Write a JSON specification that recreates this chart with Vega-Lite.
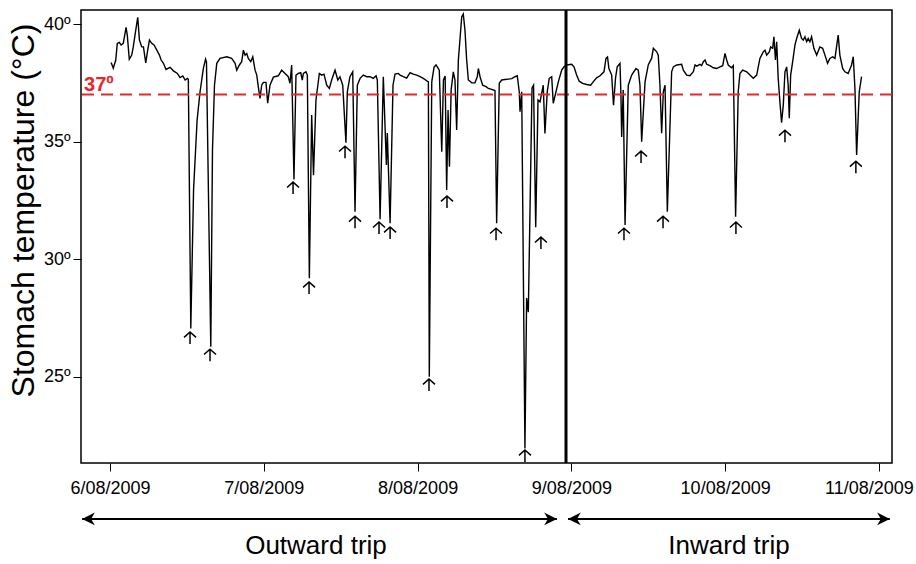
{
  "$schema": "https://vega.github.io/schema/vega-lite/v6.json",
  "width": 811,
  "height": 453,
  "autosize": {"type": "none"},
  "padding": {"left": 81, "top": 10, "right": 24, "bottom": 101},
  "background": "white",
  "config": {
    "view": {"stroke": "black", "strokeWidth": 1.5},
    "font": "Liberation Sans",
    "axis": {"labelFont": "Liberation Sans", "titleFont": "Liberation Sans", "labelColor": "black", "titleColor": "black", "tickColor": "black", "grid": false, "domain": false}
  },
  "datasets": {
    "temp": [
      {"day":0.007,"temp":38.37},{"day":0.021,"temp":38.12},{"day":0.037,"temp":38.47},{"day":0.047,"temp":39.18},{"day":0.060,"temp":39.22},{"day":0.072,"temp":39.11},{"day":0.086,"temp":39.18},{"day":0.104,"temp":39.86},{"day":0.112,"temp":39.53},{"day":0.125,"temp":38.50},
      {"day":0.141,"temp":38.68},{"day":0.151,"temp":39.03},{"day":0.167,"temp":39.74},{"day":0.180,"temp":40.29},{"day":0.191,"temp":39.32},{"day":0.206,"temp":39.03},{"day":0.217,"temp":39.03},{"day":0.232,"temp":38.35},{"day":0.243,"temp":38.82},{"day":0.256,"temp":39.32},
      {"day":0.271,"temp":39.18},{"day":0.286,"temp":39.11},{"day":0.304,"temp":38.89},{"day":0.321,"temp":38.68},{"day":0.332,"temp":38.47},{"day":0.347,"temp":38.33},{"day":0.364,"temp":38.07},{"day":0.390,"temp":38.16},{"day":0.412,"temp":38.01},{"day":0.438,"temp":37.90},
      {"day":0.455,"temp":37.72},{"day":0.473,"temp":37.79},{"day":0.488,"temp":37.62},{"day":0.503,"temp":37.69},{"day":0.509,"temp":37.65},{"day":0.525,"temp":27.05},{"day":0.543,"temp":32.94},{"day":0.566,"temp":35.91},{"day":0.585,"temp":37.11},{"day":0.607,"temp":38.13},
      {"day":0.621,"temp":38.51},{"day":0.627,"temp":38.38},{"day":0.655,"temp":26.27},{"day":0.666,"temp":34.64},{"day":0.679,"temp":37.40},{"day":0.694,"temp":38.33},{"day":0.715,"temp":38.54},{"day":0.759,"temp":38.61},{"day":0.791,"temp":38.54},{"day":0.813,"temp":38.33},
      {"day":0.824,"temp":38.04},{"day":0.841,"temp":38.26},{"day":0.856,"temp":38.40},{"day":0.867,"temp":38.89},{"day":0.878,"temp":38.68},{"day":0.889,"temp":38.75},{"day":0.899,"temp":38.54},{"day":0.915,"temp":38.40},{"day":0.928,"temp":38.61},{"day":0.943,"temp":38.04},
      {"day":0.954,"temp":37.83},{"day":0.964,"temp":37.33},{"day":0.975,"temp":36.84},{"day":0.986,"temp":37.40},{"day":0.997,"temp":37.52},{"day":1.014,"temp":37.52},{"day":1.025,"temp":36.63},{"day":1.040,"temp":37.40},{"day":1.062,"temp":37.74},{"day":1.094,"temp":37.80},
      {"day":1.116,"temp":38.04},{"day":1.138,"temp":37.90},{"day":1.159,"temp":37.76},{"day":1.170,"temp":37.48},{"day":1.181,"temp":38.26},{"day":1.196,"temp":33.39},{"day":1.209,"temp":37.83},{"day":1.224,"temp":37.90},{"day":1.240,"temp":37.93},{"day":1.250,"temp":37.62},
      {"day":1.257,"temp":37.90},{"day":1.274,"temp":37.97},{"day":1.283,"temp":37.83},{"day":1.296,"temp":29.18},{"day":1.311,"temp":36.13},{"day":1.323,"temp":33.57},{"day":1.339,"temp":36.77},{"day":1.361,"temp":37.90},{"day":1.376,"temp":37.83},{"day":1.391,"temp":37.87},
      {"day":1.409,"temp":37.40},{"day":1.426,"temp":37.26},{"day":1.441,"temp":37.62},{"day":1.463,"temp":38.04},{"day":1.481,"temp":37.62},{"day":1.495,"temp":37.76},{"day":1.513,"temp":37.40},{"day":1.534,"temp":34.95},{"day":1.543,"temp":37.12},{"day":1.560,"temp":37.76},
      {"day":1.578,"temp":37.97},{"day":1.593,"temp":32.01},{"day":1.608,"temp":37.40},{"day":1.626,"temp":37.69},{"day":1.647,"temp":37.83},{"day":1.669,"temp":37.76},{"day":1.690,"temp":37.76},{"day":1.712,"temp":37.69},{"day":1.730,"temp":37.80},{"day":1.738,"temp":37.62},
      {"day":1.756,"temp":31.69},{"day":1.777,"temp":37.76},{"day":1.797,"temp":34.00},{"day":1.803,"temp":35.36},{"day":1.821,"temp":31.52},{"day":1.840,"temp":37.40},{"day":1.853,"temp":37.87},{"day":1.874,"temp":37.90},{"day":1.886,"temp":37.83},{"day":1.907,"temp":37.76},
      {"day":1.929,"temp":37.70},{"day":1.951,"temp":37.93},{"day":1.972,"temp":37.87},{"day":1.994,"temp":37.83},{"day":2.016,"temp":37.76},{"day":2.037,"temp":37.69},{"day":2.059,"temp":37.59},{"day":2.070,"temp":37.54},{"day":2.076,"temp":24.99},{"day":2.092,"temp":37.54},
      {"day":2.107,"temp":38.17},{"day":2.120,"temp":38.26},{"day":2.141,"temp":38.04},{"day":2.157,"temp":34.57},{"day":2.168,"temp":37.62},{"day":2.179,"temp":37.79},{"day":2.189,"temp":32.94},{"day":2.198,"temp":36.34},{"day":2.207,"temp":33.93},{"day":2.218,"temp":37.19},
      {"day":2.232,"temp":37.97},{"day":2.243,"temp":37.62},{"day":2.254,"temp":35.49},{"day":2.265,"temp":38.47},{"day":2.287,"temp":40.31},{"day":2.297,"temp":40.43},{"day":2.308,"temp":39.74},{"day":2.319,"temp":38.47},{"day":2.330,"temp":37.62},{"day":2.352,"temp":37.50},
      {"day":2.373,"temp":37.50},{"day":2.388,"temp":37.76},{"day":2.395,"temp":38.11},{"day":2.406,"temp":37.76},{"day":2.423,"temp":37.40},{"day":2.445,"temp":37.34},{"day":2.460,"temp":37.26},{"day":2.482,"temp":37.22},{"day":2.503,"temp":37.17},{"day":2.514,"temp":31.52},
      {"day":2.531,"temp":37.48},{"day":2.547,"temp":37.62},{"day":2.568,"temp":37.64},{"day":2.590,"temp":37.66},{"day":2.612,"temp":37.68},{"day":2.633,"temp":37.76},{"day":2.648,"temp":37.80},{"day":2.661,"temp":37.12},{"day":2.666,"temp":36.27},{"day":2.677,"temp":37.12},
      {"day":2.698,"temp":21.94},{"day":2.709,"temp":28.34},{"day":2.720,"temp":27.74},{"day":2.744,"temp":37.28},{"day":2.754,"temp":37.40},{"day":2.768,"temp":31.35},{"day":2.783,"temp":36.77},{"day":2.796,"temp":36.69},{"day":2.817,"temp":37.40},{"day":2.828,"temp":35.35},
      {"day":2.843,"temp":37.12},{"day":2.856,"temp":37.69},{"day":2.872,"temp":37.76},{"day":2.882,"temp":36.63},{"day":2.900,"temp":37.12},{"day":2.915,"temp":37.54},{"day":2.937,"temp":38.04},{"day":2.952,"temp":38.18},{"day":2.969,"temp":38.26},{"day":3.002,"temp":38.29},
      {"day":3.017,"temp":38.18},{"day":3.034,"temp":37.83},{"day":3.051,"temp":37.57},{"day":3.073,"temp":37.48},{"day":3.099,"temp":37.43},{"day":3.125,"temp":37.40},{"day":3.142,"temp":37.54},{"day":3.164,"temp":37.71},{"day":3.186,"temp":37.80},{"day":3.212,"temp":37.97},
      {"day":3.225,"temp":38.54},{"day":3.235,"temp":38.60},{"day":3.244,"temp":38.11},{"day":3.262,"temp":37.83},{"day":3.274,"temp":36.55},{"day":3.287,"temp":37.70},{"day":3.298,"temp":38.18},{"day":3.316,"temp":38.33},{"day":3.322,"temp":37.05},{"day":3.327,"temp":35.20},
      {"day":3.337,"temp":37.19},{"day":3.349,"temp":31.45},{"day":3.370,"temp":37.40},{"day":3.392,"temp":37.83},{"day":3.420,"temp":38.11},{"day":3.435,"temp":38.04},{"day":3.446,"temp":37.40},{"day":3.457,"temp":34.99},{"day":3.479,"temp":37.54},{"day":3.500,"temp":38.26},
      {"day":3.522,"temp":38.55},{"day":3.533,"temp":38.97},{"day":3.555,"temp":38.82},{"day":3.565,"temp":38.68},{"day":3.576,"temp":37.40},{"day":3.587,"temp":35.36},{"day":3.598,"temp":37.12},{"day":3.609,"temp":37.40},{"day":3.624,"temp":32.01},{"day":3.652,"temp":37.97},
      {"day":3.663,"temp":38.18},{"day":3.685,"temp":38.26},{"day":3.717,"temp":38.29},{"day":3.728,"temp":38.04},{"day":3.750,"temp":37.83},{"day":3.771,"temp":37.80},{"day":3.793,"temp":37.97},{"day":3.804,"temp":38.26},{"day":3.815,"temp":38.21},{"day":3.836,"temp":38.29},
      {"day":3.847,"temp":38.23},{"day":3.858,"temp":38.40},{"day":3.869,"temp":38.47},{"day":3.880,"temp":38.29},{"day":3.901,"temp":38.23},{"day":3.923,"temp":38.14},{"day":3.945,"temp":38.11},{"day":3.966,"temp":38.18},{"day":3.984,"temp":38.23},{"day":3.999,"temp":38.75},
      {"day":4.010,"temp":38.47},{"day":4.020,"temp":38.26},{"day":4.042,"temp":38.14},{"day":4.053,"temp":38.23},{"day":4.068,"temp":31.80},{"day":4.085,"temp":37.12},{"day":4.096,"temp":37.90},{"day":4.114,"temp":38.04},{"day":4.140,"temp":37.97},{"day":4.161,"temp":37.83},
      {"day":4.183,"temp":37.69},{"day":4.205,"temp":37.83},{"day":4.226,"temp":38.54},{"day":4.248,"temp":38.82},{"day":4.259,"temp":38.89},{"day":4.270,"temp":38.68},{"day":4.287,"temp":38.82},{"day":4.296,"temp":39.03},{"day":4.309,"temp":38.97},{"day":4.317,"temp":39.46},
      {"day":4.327,"temp":38.47},{"day":4.335,"temp":39.25},{"day":4.345,"temp":37.69},{"day":4.356,"temp":36.69},{"day":4.367,"temp":35.80},{"day":4.378,"temp":36.55},{"day":4.389,"temp":37.97},{"day":4.400,"temp":38.18},{"day":4.410,"temp":37.40},{"day":4.417,"temp":35.99},
      {"day":4.426,"temp":37.83},{"day":4.439,"temp":38.40},{"day":4.454,"temp":39.11},{"day":4.465,"temp":39.39},{"day":4.482,"temp":39.74},{"day":4.497,"temp":39.39},{"day":4.508,"temp":39.32},{"day":4.519,"temp":39.46},{"day":4.530,"temp":39.25},{"day":4.540,"temp":39.39},
      {"day":4.551,"temp":39.25},{"day":4.562,"temp":39.46},{"day":4.577,"temp":38.97},{"day":4.595,"temp":38.68},{"day":4.616,"temp":39.03},{"day":4.634,"temp":38.97},{"day":4.649,"temp":38.68},{"day":4.666,"temp":38.33},{"day":4.681,"temp":38.54},{"day":4.699,"temp":38.61},
      {"day":4.714,"temp":38.54},{"day":4.735,"temp":39.53},{"day":4.746,"temp":38.68},{"day":4.764,"temp":38.11},{"day":4.779,"temp":37.97},{"day":4.800,"temp":37.90},{"day":4.822,"temp":38.26},{"day":4.833,"temp":38.61},{"day":4.844,"temp":37.26},{"day":4.855,"temp":34.43},
      {"day":4.872,"temp":37.12},{"day":4.887,"temp":37.76}
    ],
    "dives": [
      {"day":0.520,"marker":26.64},{"day":0.650,"marker":25.91},{"day":1.190,"marker":33.02},{"day":1.294,"marker":28.77},{"day":1.528,"marker":34.55},{"day":1.593,"marker":31.57},{"day":1.749,"marker":31.32},{"day":1.821,"marker":31.11},{"day":2.074,"marker":24.64},{"day":2.191,"marker":32.43},
      {"day":2.510,"marker":31.06},{"day":2.698,"marker":21.62},{"day":2.802,"marker":30.68},{"day":3.342,"marker":31.06},{"day":3.453,"marker":34.34},{"day":3.596,"marker":31.57},{"day":4.070,"marker":31.32},{"day":4.389,"marker":35.23},{"day":4.850,"marker":33.91}
    ],
    "trips": [
      {"trip":"Outward trip","start":-0.182,"end":2.906,"mid":1.339},
      {"trip":"Inward trip","start":2.978,"end":5.071,"mid":4.025}
    ],
    "refs": [
      {"threshold": 37, "label": "37º", "labelDay": -0.169, "labelTemp": 37.4, "split": 2.965}
    ]
  },
  "layer": [
    {
      "data": {"name": "temp"},
      "mark": {"type": "line", "color": "black", "strokeWidth": 1.4},
      "encoding": {
        "x": {"field": "day", "type": "quantitative",
              "scale": {"domain": [-0.189, 5.085], "nice": false, "zero": false},
              "axis": {"values": [0,1,2,3,4,5], "labelExpr": "(datum.value+6)+'/08/2009'", "title": null, "tickSize": 8, "tickWidth": 1, "labelFontSize": 18, "labelPadding": 8, "labelFlush": false, "labelOverlap": false,
                       "labelOffset": {"condition": {"test": "datum.value == 5", "value": -10}, "value": 0}}},
        "y": {"field": "temp", "type": "quantitative",
              "scale": {"domain": [21.32, 40.6], "nice": false, "zero": false},
              "axis": {"values": [25,30,35,40], "labelExpr": "datum.value+'º'", "title": "Stomach temperature (°C)", "tickSize": 8, "tickWidth": 1, "labelFontSize": 18, "labelPadding": 3, "titleFontSize": 32, "titleFontWeight": "normal", "titleX": -58, "titleY": 200, "titleAngle": -90, "titleAlign": "center", "titleBaseline": "middle"}}
      }
    },
    {
      "data": {"name": "refs"},
      "mark": {"type": "rule", "color": "#e8262b", "strokeWidth": 2, "strokeDash": [12, 7]},
      "encoding": {
        "y": {"field": "threshold", "type": "quantitative"}
      }
    },
    {
      "data": {"name": "refs"},
      "mark": {"type": "text", "color": "#e8262b", "fontWeight": "bold", "fontSize": 20, "align": "left", "baseline": "middle", "font": "Liberation Sans"},
      "encoding": {
        "x": {"field": "labelDay", "type": "quantitative"},
        "y": {"field": "labelTemp", "type": "quantitative"},
        "text": {"field": "label"}
      }
    },
    {
      "data": {"name": "refs"},
      "mark": {"type": "rule", "color": "black", "strokeWidth": 3},
      "encoding": {
        "x": {"field": "split", "type": "quantitative"}
      }
    },
    {
      "data": {"name": "dives"},
      "mark": {"type": "point", "shape": "M-1,-0.1L0,-1L1,-0.1M0,-1L0,1", "filled": false, "color": "black", "strokeWidth": 1.5, "size": 144, "opacity": 1},
      "encoding": {
        "x": {"field": "day", "type": "quantitative"},
        "y": {"field": "marker", "type": "quantitative"}
      }
    },
    {
      "data": {"name": "trips"},
      "mark": {"type": "rule", "color": "black", "strokeWidth": 2},
      "encoding": {
        "x": {"field": "start", "type": "quantitative"},
        "x2": {"field": "end"},
        "y": {"datum": 18.94, "type": "quantitative"}
      }
    },
    {
      "data": {"name": "trips"},
      "mark": {"type": "point", "shape": "M0,0L1.7,-0.85L1.2,0L1.7,0.85Z", "filled": true, "color": "black", "size": 225, "opacity": 1},
      "encoding": {
        "x": {"field": "start", "type": "quantitative"},
        "y": {"datum": 18.94, "type": "quantitative"}
      }
    },
    {
      "data": {"name": "trips"},
      "mark": {"type": "point", "shape": "M0,0L-1.7,-0.85L-1.2,0L-1.7,0.85Z", "filled": true, "color": "black", "size": 225, "opacity": 1},
      "encoding": {
        "x": {"field": "end", "type": "quantitative"},
        "y": {"datum": 18.94, "type": "quantitative"}
      }
    },
    {
      "data": {"name": "trips"},
      "mark": {"type": "text", "fontSize": 26, "font": "Liberation Sans", "color": "black", "align": "center", "baseline": "alphabetic"},
      "encoding": {
        "x": {"field": "mid", "type": "quantitative"},
        "y": {"datum": 17.45, "type": "quantitative"},
        "text": {"field": "trip"}
      }
    }
  ]
}
